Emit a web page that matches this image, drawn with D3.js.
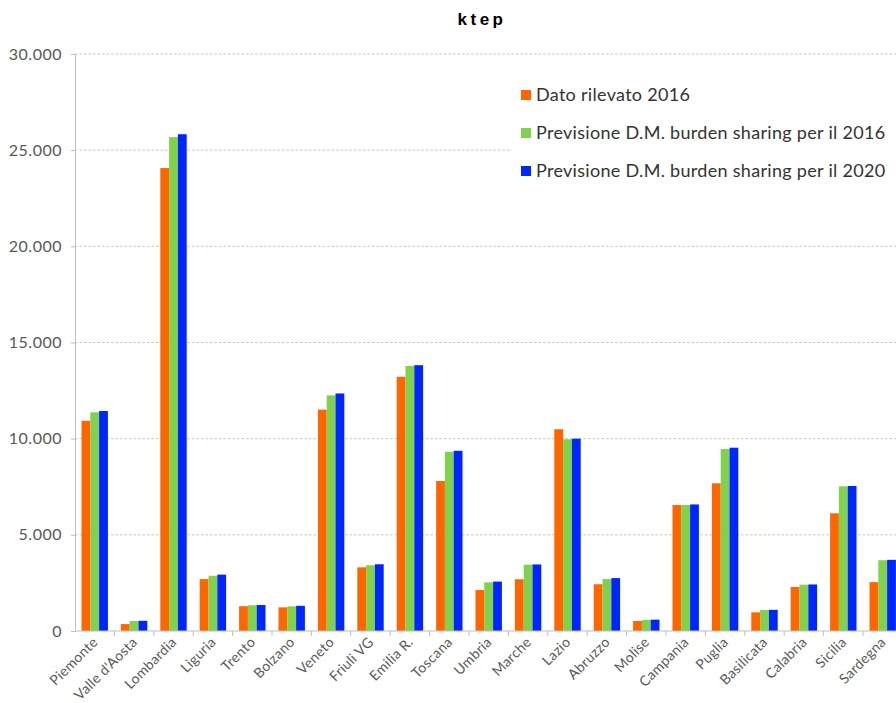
<!DOCTYPE html>
<html>
<head>
<meta charset="utf-8">
<script src="https://cdn.jsdelivr.net/npm/d3@7"></script>
<style>
  body { margin: 0; background: #fff; }
  text { font-family: Lato, "Open Sans", sans-serif; }
</style>
</head>
<body>
<div id="chart"></div>
<script>
// regions + the three series (ktep)
const regions = ["Piemonte", "Valle d'Aosta", "Lombardia", "Liguria", "Trento", "Bolzano", "Veneto",
  "Friuli VG", "Emilia R.", "Toscana", "Umbria", "Marche", "Lazio", "Abruzzo", "Molise",
  "Campania", "Puglia", "Basilicata", "Calabria", "Sicilia", "Sardegna"]

const rilevato2016 = [10930, 360, 24070, 2700, 1290, 1230, 11510, 3310, 13220, 7800, 2130, 2690,
  10490, 2430, 520, 6550, 7680, 970, 2290, 6120, 2540]
const previsione2016 = [11370, 520, 25680, 2870, 1340, 1280, 12250, 3420, 13780, 9320, 2530, 3450,
  9970, 2700, 580, 6550, 9460, 1090, 2410, 7520, 3680]
const previsione2020 = [11440, 530, 25830, 2930, 1350, 1310, 12350, 3470, 13820, 9370, 2570, 3460,
  10000, 2750, 590, 6580, 9530, 1100, 2420, 7540, 3700]

const seriesNames = ["Dato rilevato 2016", "Previsione D.M. burden sharing per il 2016", "Previsione D.M. burden sharing per il 2020"]
const colors = ["#ff6600", "#80d24c", "#0026ff"]
const yTicks = [0, 5000, 10000, 15000, 20000, 25000, 30000]

const width = 896, height = 703

const svg = d3.select("#chart").append("svg")
    .attr("width", width)
    .attr("height", height)

const y = d3.scaleLinear().domain([0, 30000]).range([631, 54])
const x0 = d3.scaleBand().domain(regions).range([75, 75 + 21 * 39.4])
const x1 = d3.scaleBand().domain(d3.range(3)).range([6.5, x0.bandwidth() - 6.5])

const it = d3.formatLocale({decimal: ",", thousands: ".", grouping: [3], currency: ["", ""]})
const fmt = it.format(",d")

// dotted grid
svg.append("g").selectAll("line")
    .data(yTicks.filter(d => d > 0))
    .enter().append("line")
    .attr("x1", 75).attr("x2", width)
    .attr("y1", d => y(d)).attr("y2", d => y(d))
    .attr("stroke", "#c4c4c4")
    .attr("stroke-dasharray", "2.5,2")

// y axis
const yAxis = svg.append("g")
    .attr("transform", "translate(75,0)")
    .call(d3.axisLeft(y).tickValues(yTicks).tickFormat(fmt).tickSize(4).tickPadding(9))
yAxis.select(".domain").attr("stroke", "#bfbfbf")
yAxis.selectAll(".tick line").attr("stroke", "#bfbfbf")
yAxis.selectAll(".tick text")
    .attr("fill", "#595959")
    .style("font-size", "16px")
    .style("letter-spacing", "0.5px")
    .style("font-family", "Lato")

// bars
const data = regions.map((r, i) => ({region: r, vals: [rilevato2016[i], previsione2016[i], previsione2020[i]]}))

const groups = svg.selectAll("g.grp")
    .data(data)
    .enter().append("g")
    .attr("class", "grp")
    .attr("transform", d => "translate(" + x0(d.region) + ",0)")

groups.selectAll("rect")
    .data(d => d.vals)
    .enter().append("rect")
    .attr("x", (d, i) => x1(i))
    .attr("width", x1.bandwidth())
    .attr("y", d => y(d))
    .attr("height", d => y(0) - y(d))
    .attr("fill", (d, i) => colors[i])

// x axis: line + ticks on band edges
const xa = svg.append("g")
svg.append("line")
    .attr("x1", 75).attr("x2", width)
    .attr("y1", y(0)).attr("y2", y(0))
    .attr("stroke", "#bfbfbf")
xa.selectAll("line")
    .data(regions)
    .enter().append("line")
    .attr("x1", d => x0(d) + x0.bandwidth()).attr("x2", d => x0(d) + x0.bandwidth())
    .attr("y1", y(0)).attr("y2", y(0) + 5)
    .attr("stroke", "#bfbfbf")

xa.selectAll("text")
    .data(regions)
    .enter().append("text")
    .attr("transform", d => "translate(" + (x0(d) + x0.bandwidth() / 2 + 4) + "," + (y(0) + 12) + ") rotate(-45)")
    .attr("text-anchor", "end")
    .attr("fill", "#595959")
    .style("font-size", "14px")
    .style("letter-spacing", "0.3px")
    .text(d => d)

// legend (white box hides the grid behind it)
const lg = svg.append("g")
lg.append("rect")
    .attr("x", 512).attr("y", 72).attr("width", 384).attr("height", 120)
    .attr("fill", "#fff")
const rows = lg.selectAll("g.row")
    .data(seriesNames)
    .enter().append("g")
    .attr("class", "row")
    .attr("transform", (d, i) => "translate(521," + (95 + i * 38) + ")")
rows.append("rect")
    .attr("x", 0).attr("y", -5).attr("width", 10).attr("height", 10)
    .attr("fill", (d, i) => colors[i])
rows.append("text")
    .attr("x", 15).attr("y", 6)
    .attr("fill", "#333")
    .style("font-size", "18px")
    .style("letter-spacing", "0.3px")
    .text(d => d)

// title
svg.append("text")
    .attr("x", 482).attr("y", 25)
    .attr("text-anchor", "middle")
    .style("font-family", "'Liberation Sans', Arial, sans-serif")
    .style("font-weight", "bold")
    .style("font-size", "17px")
    .style("letter-spacing", "3.5px")
    .text("ktep")
</script>
</body>
</html>
